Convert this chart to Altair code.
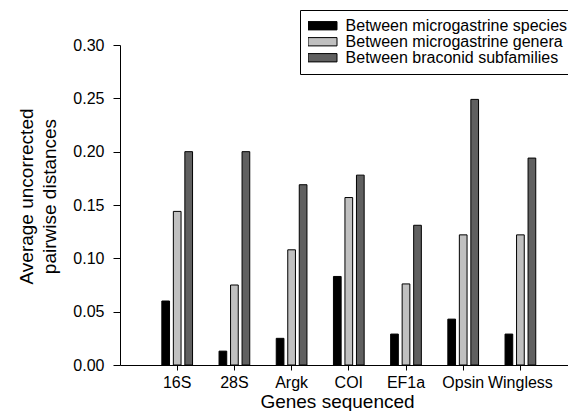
import altair as alt
import pandas as pd

genes = ["16S", "28S", "Argk", "COI", "EF1a", "Opsin", "Wingless"]
series = ["Between microgastrine species", "Between microgastrine genera", "Between braconid subfamilies"]
species_vals = [0.060, 0.013, 0.025, 0.083, 0.029, 0.043, 0.029]
genera_vals = [0.144, 0.075, 0.108, 0.157, 0.076, 0.122, 0.122]
subfam_vals = [0.200, 0.200, 0.169, 0.178, 0.131, 0.249, 0.194]
colors = ["#000000", "#c0c0c0", "#606060"]
y_ticks = [0.0, 0.05, 0.10, 0.15, 0.20, 0.25, 0.30]

rows = []
for name, vals in zip(series, [species_vals, genera_vals, subfam_vals]):
    for g, v in zip(genes, vals):
        rows.append({"gene": g, "series": name, "value": v})
df = pd.DataFrame(rows)

FONT = "Liberation Sans"

chart = alt.Chart(df).mark_bar(stroke="black", strokeWidth=1, size=7.7).encode(
    x=alt.X("gene:N", sort=genes,
            scale=alt.Scale(domain=genes, paddingInner=0, paddingOuter=0.5, range=[0, 457.6]),
            axis=alt.Axis(title="Genes sequenced", labelAngle=0, tickSize=5, labelPadding=4,
                          titleX=217, titleY=42, titleBaseline="alphabetic")),
    xOffset=alt.XOffset("series:N", sort=series,
                        scale=alt.Scale(domain=series, paddingInner=0.03, paddingOuter=1)),
    y=alt.Y("value:Q", scale=alt.Scale(domain=[0, 0.3], nice=False, zero=True),
            axis=alt.Axis(title=["Average uncorrected", "pairwise distances"], values=y_ticks,
                          format=".2f", tickSize=7, labelPadding=9, titlePadding=13,
                          titleY=151, titleLineHeight=23, grid=False)),
    color=alt.Color("series:N", sort=series,
                    scale=alt.Scale(domain=series, range=colors),
                    legend=alt.Legend(title=None, orient="none", legendX=180, legendY=-35,
                                      symbolType="M-1.143,-0.593H3.0V0.593H-1.143Z",
                                      symbolSize=196, symbolStrokeColor="black",
                                      symbolStrokeWidth=1, symbolOpacity=1,
                                      labelFontSize=16, labelOffset=21.6,
                                      clipHeight=15.5, rowPadding=-1.5,
                                      padding=8, strokeColor="black", fillColor="white",
                                      labelFont=FONT, labelColor="black", labelLimit=0)),
).properties(
    width=448, height=320,
    autosize=alt.AutoSizeParams(type="none"),
    padding={"left": 112, "top": 37, "right": 0, "bottom": 46},
).configure(background="white").configure_view(stroke=None).configure_axis(
    labelFont=FONT, titleFont=FONT, labelFontSize=16, titleFontSize=19,
    labelColor="black", titleColor="black", titleFontWeight="normal",
    domainColor="black", tickColor="black", domainWidth=1, tickWidth=1,
)

chart.save("out.html", embed_options={"renderer": "svg", "actions": False})
